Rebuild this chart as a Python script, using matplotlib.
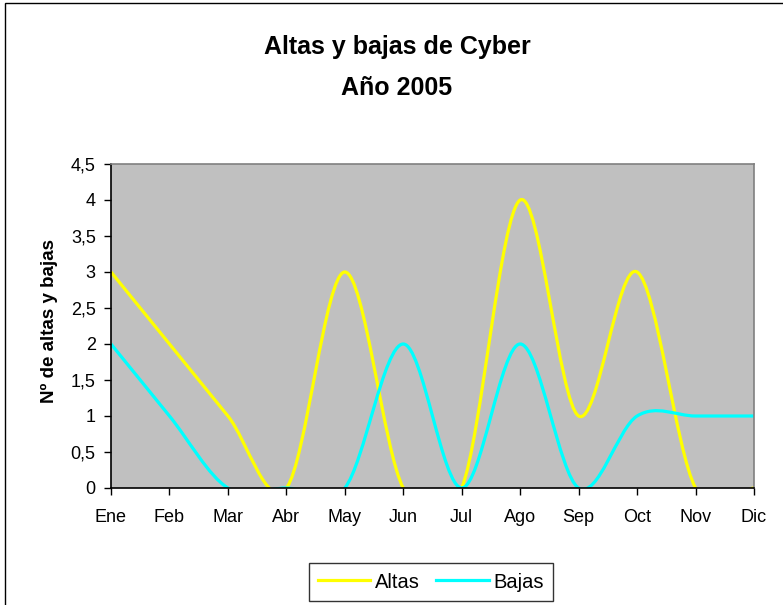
import matplotlib
matplotlib.use("Agg")
import matplotlib.pyplot as plt
from matplotlib.path import Path
from matplotlib.patches import PathPatch, Rectangle
from matplotlib.lines import Line2D

meses = ['Ene', 'Feb', 'Mar', 'Abr', 'May', 'Jun', 'Jul', 'Ago', 'Sep', 'Oct', 'Nov', 'Dic']
altas = [3, 2, 1, 0, 3, 0, 0, 4, 1, 3, 0, 0]
bajas = [2, 1, 0, 0, 0, 2, 0, 2, 0, 1, 1, 1]
y_ticks = [0, 0.5, 1, 1.5, 2, 2.5, 3, 3.5, 4, 4.5]
y_labels = ['0', '0,5', '1', '1,5', '2', '2,5', '3', '3,5', '4', '4,5']

plt.rcParams['font.family'] = ['Liberation Sans', 'DejaVu Sans']


# linea suavizada estilo Excel (curvas de Bezier)
def smooth_path(xs, ys):
    pts = list(zip(xs, ys))
    n = len(pts)
    verts = [pts[0]]
    codes = [Path.MOVETO]
    for i in range(n - 1):
        p0 = pts[max(i - 1, 0)]
        p1 = pts[i]
        p2 = pts[i + 1]
        p3 = pts[min(i + 2, n - 1)]
        c1 = (p1[0] + (p2[0] - p0[0]) / 6, p1[1] + (p2[1] - p0[1]) / 6)
        c2 = (p2[0] - (p3[0] - p1[0]) / 6, p2[1] - (p3[1] - p1[1]) / 6)
        verts += [c1, c2, p2]
        codes += [Path.CURVE4] * 3
    return Path(verts, codes)


fig = plt.figure(figsize=(7.83, 6.05), dpi=100)
fig.patches.append(Rectangle((5 / 783, -0.05), 1.1, 1.05 - 3 / 605, transform=fig.transFigure,
                             fill=False, edgecolor='black', linewidth=1.0))

ax = fig.add_axes([111 / 783, 117 / 605, 643 / 783, 324 / 605])
ax.set_facecolor('#c0c0c0')

x = list(range(len(meses)))
for serie, color in [(altas, '#ffff00'), (bajas, '#00ffff')]:
    patch = PathPatch(smooth_path(x, serie), facecolor='none', edgecolor=color,
                      linewidth=2.3, transform=ax.transData)
    ax.add_patch(patch)

ax.set_xlim(0, len(meses) - 1)
ax.set_ylim(0, 4.5)
ax.set_xticks(x)
ax.set_xticklabels(meses, fontsize=13)
ax.set_yticks(y_ticks)
ax.set_yticklabels(y_labels, fontsize=13)
ax.tick_params(direction='out', length=5, width=1, color='black')
ax.tick_params(axis='x', pad=10)
ax.tick_params(axis='y', pad=6)

ax.spines['left'].set_color('black')
ax.spines['bottom'].set_color('black')
ax.spines['top'].set_color('#808080')
ax.spines['right'].set_color('#808080')
for s in ax.spines.values():
    s.set_linewidth(1.2)

ax.set_ylabel('Nº de altas y bajas', fontsize=13.5, fontweight='bold')
ax.yaxis.set_label_coords(-0.082, 0.515)

fig.text(397 / 783, 1 - 47 / 605, 'Altas y bajas de Cyber', ha='center', va='center',
         fontsize=18, fontweight='bold')
fig.text(397 / 783, 1 - 88 / 605, 'Año 2005', ha='center', va='center',
         fontsize=18, fontweight='bold')

handles = [Line2D([], [], color='#ffff00', linewidth=2.3),
           Line2D([], [], color='#00ffff', linewidth=2.3)]
leg = fig.legend(handles, ['Altas', 'Bajas'], loc='center', ncol=2,
                 bbox_to_anchor=(431 / 783, 1 - 582 / 605), fontsize=14.5,
                 frameon=True, fancybox=False, edgecolor='black',
                 handlelength=2.6, handletextpad=0.25, columnspacing=0.8,
                 borderpad=0.45, borderaxespad=0)
leg.get_frame().set_linewidth(1.0)

fig.savefig('out.png', dpi=100)
